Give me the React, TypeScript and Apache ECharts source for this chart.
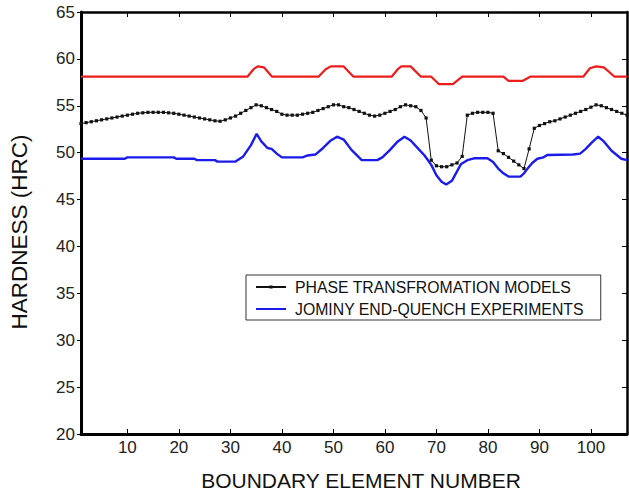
import React, { useEffect, useRef } from "react";
import * as echarts from "echarts";

const X_TICKS = [10, 20, 30, 40, 50, 60, 70, 80, 90, 100];
const X_MIN = 1;
const X_MAX = 107;
const Y_MIN = 20;
const Y_MAX = 65;
const Y_STEP = 5;

const MODEL_NAME = "PHASE TRANSFROMATION MODELS";
const EXP_NAME = "JOMINY END-QUENCH EXPERIMENTS";
const RED_NAME = "REFERENCE";

// Phase transformation model, one value per boundary element 1..107
const modelValues = [
  53.1, 53.2, 53.3, 53.4, 53.5, 53.6, 53.7, 53.8, 53.9, 54.0,
  54.1, 54.2, 54.25, 54.3, 54.3, 54.3, 54.3, 54.25, 54.2, 54.1,
  54.0, 53.9, 53.8, 53.7, 53.6, 53.5, 53.4, 53.35, 53.5, 53.7,
  53.9, 54.2, 54.5, 54.8, 55.1, 55.0, 54.8, 54.6, 54.4, 54.1,
  54.0, 54.0, 54.0, 54.1, 54.2, 54.3, 54.5, 54.7, 54.9, 55.1,
  55.1, 54.9, 54.8, 54.6, 54.4, 54.2, 54.0, 53.9, 54.0, 54.2,
  54.4, 54.6, 54.9, 55.1, 55.0, 54.9, 54.5, 53.7, 49.2, 48.6,
  48.5, 48.5, 48.7, 48.9, 49.6, 54.0, 54.2, 54.3, 54.3, 54.3,
  54.2, 50.2, 49.9, 49.5, 49.1, 48.7, 48.3, 50.4, 52.6, 52.9,
  53.1, 53.3, 53.4, 53.6, 53.8, 54.0, 54.2, 54.4, 54.6, 54.85,
  55.1, 55.0, 54.8, 54.6, 54.4, 54.2, 54.0,
];

// Jominy end-quench experiment: [element, hardness]
const expX = [
  1, 9.5, 10, 19, 19.5, 23, 23.5, 27, 27.5, 31, 32.5, 34, 35.1, 36, 37.2, 38, 39, 40, 44, 45,
  46.5, 48, 49.5, 50.7, 52, 53.5, 55.5, 58.5, 59.5, 61, 62.5, 63.8, 65, 66.5, 67.7, 69, 70, 71,
  71.9, 73, 74, 74.8, 76, 77.3, 79.9, 81, 82, 83, 84, 86.3, 87, 87.7, 88.6, 89.6, 90.8, 91.5,
  96.5, 97.9, 99, 100.2, 101.4, 102.5, 104, 105.9, 107,
];
const expY = [
  49.35, 49.35, 49.5, 49.5, 49.35, 49.35, 49.2, 49.2, 49.05, 49.05, 49.6, 50.8, 52.0, 51.2, 50.5,
  50.4, 49.9, 49.5, 49.5, 49.7, 49.8, 50.5, 51.3, 51.7, 51.4, 50.3, 49.2, 49.2, 49.5, 50.3, 51.2,
  51.7, 51.3, 50.4, 49.7, 48.7, 47.6, 46.9, 46.6, 47.0, 48.0, 48.8, 49.2, 49.4, 49.4, 49.0, 48.3,
  47.8, 47.45, 47.45, 47.8, 48.3, 48.9, 49.35, 49.5, 49.75, 49.8, 49.9, 50.4, 51.1, 51.7, 51.2,
  50.2, 49.35, 49.2,
];

// Red curve (no legend entry): [element, hardness]
const redX = [
  1, 33.3, 34.5, 35.3, 36.5, 38.1, 47.1, 48.5, 49.5, 52, 53.9, 61.3, 62.5, 63.2, 65, 67, 69,
  70.5, 73.2, 75, 83, 84, 86.7, 88.2, 98.5, 99.8, 101, 102.5, 104.6, 107,
];
const redY = [
  58.1, 58.1, 58.9, 59.2, 59.1, 58.1, 58.1, 58.9, 59.2, 59.2, 58.1, 58.1, 58.9, 59.2, 59.2, 58.1,
  58.1, 57.3, 57.3, 58.1, 58.1, 57.65, 57.65, 58.1, 58.1, 59.0, 59.2, 59.1, 58.1, 58.1,
];

const FONT = "'Liberation Sans', Arial, Helvetica, sans-serif";

export default function App() {
  const ref = useRef<HTMLDivElement>(null);
  useEffect(() => {
    if (!ref.current) return;
    const chart = echarts.init(ref.current, undefined, { renderer: "svg" });
    chart.setOption({
      animation: false,
      backgroundColor: "#fff",
      textStyle: { fontFamily: FONT },
      grid: { left: 79, right: 2, top: 12, bottom: 50, containLabel: false },
      legend: {
        orient: "vertical",
        left: 246,
        top: 275,
        data: [
          { name: MODEL_NAME },
          { name: EXP_NAME, itemStyle: { opacity: 0 } },
        ],
        itemWidth: 30,
        itemHeight: 4,
        itemGap: 6,
        padding: [4, 17, 3, 9],
        borderColor: "#333",
        borderWidth: 1,
        textStyle: { fontSize: 15.8, color: "#111", fontFamily: FONT, padding: [0, 0, 0, 4] },
      },
      xAxis: [
        {
          type: "value",
          position: "bottom",
          min: X_MIN,
          max: X_MAX,
          name: "BOUNDARY ELEMENT NUMBER",
          nameLocation: "middle",
          nameGap: 36,
          nameTextStyle: { fontSize: 21, color: "#111", fontFamily: FONT, padding: [0, 0, 0, 14] },
          axisLine: { lineStyle: { color: "#000", width: 3 } },
          axisTick: { inside: true, length: 5, customValues: X_TICKS, lineStyle: { color: "#000", width: 1 } },
          axisLabel: { customValues: X_TICKS, fontSize: 17, color: "#222", margin: 5, fontFamily: FONT },
          splitLine: { show: false },
        },
        {
          type: "value",
          position: "top",
          min: X_MIN,
          max: X_MAX,
          axisLine: { lineStyle: { color: "#000", width: 2.5 } },
          axisTick: { inside: true, length: 5, customValues: X_TICKS, lineStyle: { color: "#000", width: 1 } },
          axisLabel: { show: false },
          splitLine: { show: false },
        },
      ],
      yAxis: [
        {
          type: "value",
          position: "left",
          min: Y_MIN,
          max: Y_MAX,
          interval: Y_STEP,
          name: "HARDNESS (HRC)",
          nameLocation: "middle",
          nameGap: 50,
          nameTextStyle: { fontSize: 22.5, color: "#111", fontFamily: FONT, padding: [0, 18, 0, 0] },
          axisLine: { show: true, lineStyle: { color: "#000", width: 3 } },
          axisTick: { show: true, inside: false, length: 4, lineStyle: { color: "#000", width: 1 } },
          axisLabel: { fontSize: 17, color: "#222", margin: 6, fontFamily: FONT },
          splitLine: { show: false },
        },
        {
          type: "value",
          position: "right",
          min: Y_MIN,
          max: Y_MAX,
          interval: Y_STEP,
          axisLine: { show: true, lineStyle: { color: "#000", width: 2.5 } },
          axisTick: { show: true, inside: true, length: 5, lineStyle: { color: "#000", width: 1 } },
          axisLabel: { show: false },
          splitLine: { show: false },
        },
      ],
      series: [
        {
          name: RED_NAME,
          type: "line",
          data: redX.map((x, i) => [x, redY[i]]),
          symbol: "none",
          lineStyle: { color: "#ee1c1c", width: 2.2 },
          itemStyle: { color: "#ee1c1c" },
        },
        {
          name: EXP_NAME,
          type: "line",
          data: expX.map((x, i) => [x, expY[i]]),
          symbol: "none",
          lineStyle: { color: "#1b1bec", width: 2.4 },
          itemStyle: { color: "#1b1bec" },
        },
        {
          name: MODEL_NAME,
          type: "line",
          data: modelValues.map((v, i) => [i + 1, v]),
          symbol: "rect",
          symbolSize: 3.2,
          lineStyle: { color: "#111", width: 1 },
          itemStyle: { color: "#111" },
        },
      ],
    });
    return () => chart.dispose();
  }, []);
  return (
    <div
      ref={ref}
      style={{ position: "absolute", left: 0, top: 0, width: 629, height: 496, background: "#fff" }}
    />
  );
}
